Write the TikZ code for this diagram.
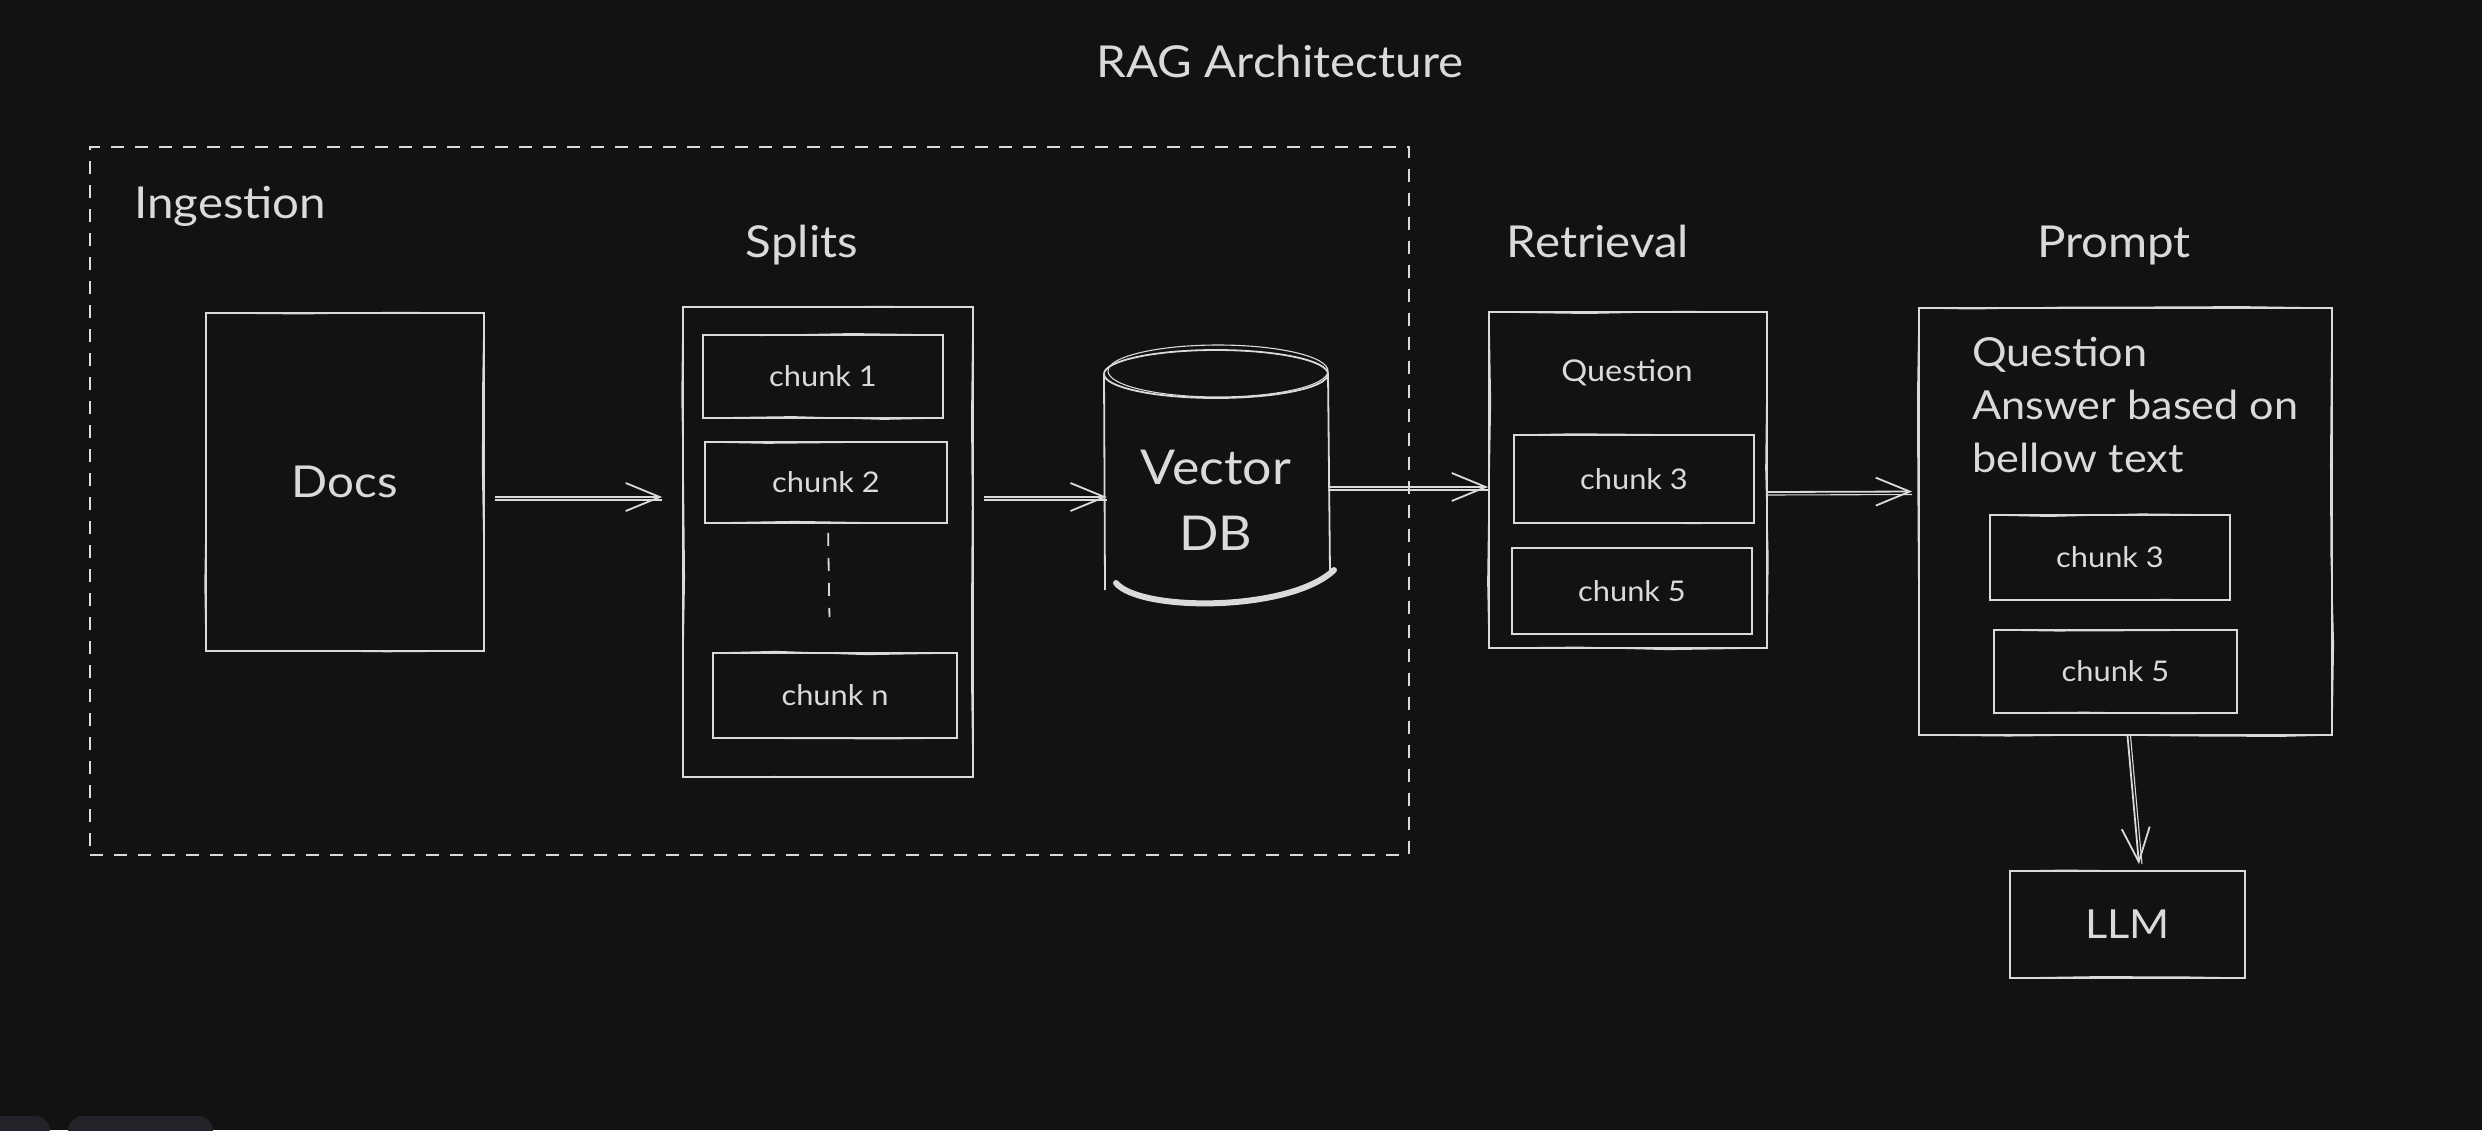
\documentclass[tikz,border=0pt]{standalone}
\usepackage{fontspec}
\setmainfont[FakeStretch=1.08]{Lato}
\usetikzlibrary{arrows.meta,decorations.pathmorphing}
\definecolor{bg}{HTML}{121212}
\definecolor{fg}{HTML}{DADADA}
\definecolor{ui}{HTML}{232329}
\newcommand\fsz[2]{\fontsize{#1}{#2}\selectfont}
\begin{document}
\begin{tikzpicture}[x=1pt,y=-1pt,
  sk/.style={draw=fg, line width=1.8pt, inner sep=0pt, text=fg,
    postaction={draw=fg, line width=1.1pt, decorate,
      decoration={random steps, segment length=90pt, amplitude=1.6pt}}},
  chk/.style={sk, font=\fsz{28.5}{34}},
  lbl/.style={text=fg, inner sep=0pt, font=\fsz{44}{52}},
  dashbox/.style={draw=fg, line width=2pt, dash pattern=on 13pt off 11pt, inner sep=0pt},
  arrh/.style={draw=fg, line width=1.8pt, -{Straight Barb[length=34pt,width=28pt,line width=1.8pt]},
    postaction={draw=fg, line width=1.1pt, -, transform canvas={yshift=-3pt}}},
  arrv/.style={draw=fg, line width=1.8pt, -{Straight Barb[length=34pt,width=28pt,line width=1.8pt]},
    postaction={draw=fg, line width=1.1pt, -, transform canvas={xshift=3pt}}},
]
\pgfmathsetseed{7}
\useasboundingbox (0,0) rectangle (2482,1130);
\fill[bg] (0,0) rectangle (2482,1130);
% UI remnants bottom-left
\begin{scope}
\clip (0,0) rectangle (2482,1130);
\fill[ui, rounded corners=15pt] (-30,1116) rectangle (50,1160);
\fill[ui, rounded corners=15pt] (68,1116) rectangle (213,1160);
\end{scope}

% title
\node[lbl, anchor=base] (title) at (1280,77) {RAG Architecture};

% ingestion group
\node[dashbox, minimum width=1319pt, minimum height=708pt] (ingest) at (749.5,501) {};
\node[lbl, anchor=base west] (inglbl) at (134,218) {Ingestion};

% docs
\node[sk, minimum width=278pt, minimum height=338pt, font=\fsz{44}{52}] (docs) at (345,482) {Docs};

% splits
\node[lbl, anchor=base] (splitslbl) at (802,257) {Splits};
\node[sk, minimum width=290pt, minimum height=470pt] (splits) at (828,542) {};
\node[chk, minimum width=240pt, minimum height=83pt] (c1) at (823,376.5) {chunk 1};
\node[chk, minimum width=242pt, minimum height=81pt] (c2) at (826,482.5) {chunk 2};
\node[chk, minimum width=244pt, minimum height=85pt] (cn) at (835,695.5) {chunk n};
\draw[fg, line width=1.8pt, dash pattern=on 13pt off 12pt, shorten <=9pt, shorten >=35pt]
  ([xshift=2pt]c2.south) -- ([xshift=-5pt]cn.north);

% vector db
\node[inner sep=0pt, minimum width=224pt, minimum height=254pt, text=fg, align=center,
      font=\fsz{48}{66}] (vdb) at (1216,500) {Vector\\DB};
\draw[fg, line width=1.8pt] (1216,374) ellipse [x radius=112, y radius=24];
\draw[fg, line width=1.1pt] (1218,371) ellipse [x radius=110, y radius=26];
\draw[fg, line width=1.8pt] (1104,374) -- (1105,590);
\draw[fg, line width=1.8pt] (1328,374) -- (1330,572);
\draw[fg, line width=6pt, line cap=round] (1116,583) .. controls (1140,612) and (1290,612) .. (1334,570);

% retrieval
\node[lbl, anchor=base] (retrlbl) at (1598,257) {Retrieval};
\node[sk, minimum width=278pt, minimum height=336pt] (retr) at (1628,480) {};
\node[text=fg, inner sep=0pt, font=\fsz{30}{36}] (rq) at (1627,373) {Question};
\node[chk, minimum width=240pt, minimum height=88pt] (r3) at (1634,479) {chunk 3};
\node[chk, minimum width=240pt, minimum height=86pt] (r5) at (1632,591) {chunk 5};

% prompt
\node[lbl, anchor=base] (promptlbl) at (2114,257) {Prompt};
\node[sk, minimum width=413pt, minimum height=427pt] (prompt) at (2125.5,521.5) {};
\node[text=fg, inner sep=0pt, anchor=base west, align=left, font=\fsz{40}{53}] (ptext) at (1972,472)
  {Question\\Answer based on\\bellow text};
\node[chk, minimum width=240pt, minimum height=85pt] (p3) at (2110,557.5) {chunk 3};
\node[chk, minimum width=243pt, minimum height=83pt] (p5) at (2115.5,671.5) {chunk 5};

% llm
\node[sk, minimum width=235pt, minimum height=107pt, font=\fsz{40}{46}] (llm) at (2127.5,924.5) {LLM};

% arrows
\draw[arrh, shorten <=10pt, shorten >=20pt] ([yshift=-15pt]docs.east) -- ([yshift=45pt]splits.west);
\draw[arrh, shorten <=10pt, shorten >=-3pt] ([yshift=45pt]splits.east) -- ([yshift=3pt]vdb.west);
\draw[arrh] ([yshift=13pt]vdb.east) -- ([yshift=-7pt]retr.west);
\draw[arrh, shorten >=6pt] ([yshift=-12pt]retr.east) -- ([yshift=30pt]prompt.west);
\draw[arrv, shorten >=6pt] ([xshift=2pt]prompt.south) -- ([xshift=12pt]llm.north);
\end{tikzpicture}
\end{document}
